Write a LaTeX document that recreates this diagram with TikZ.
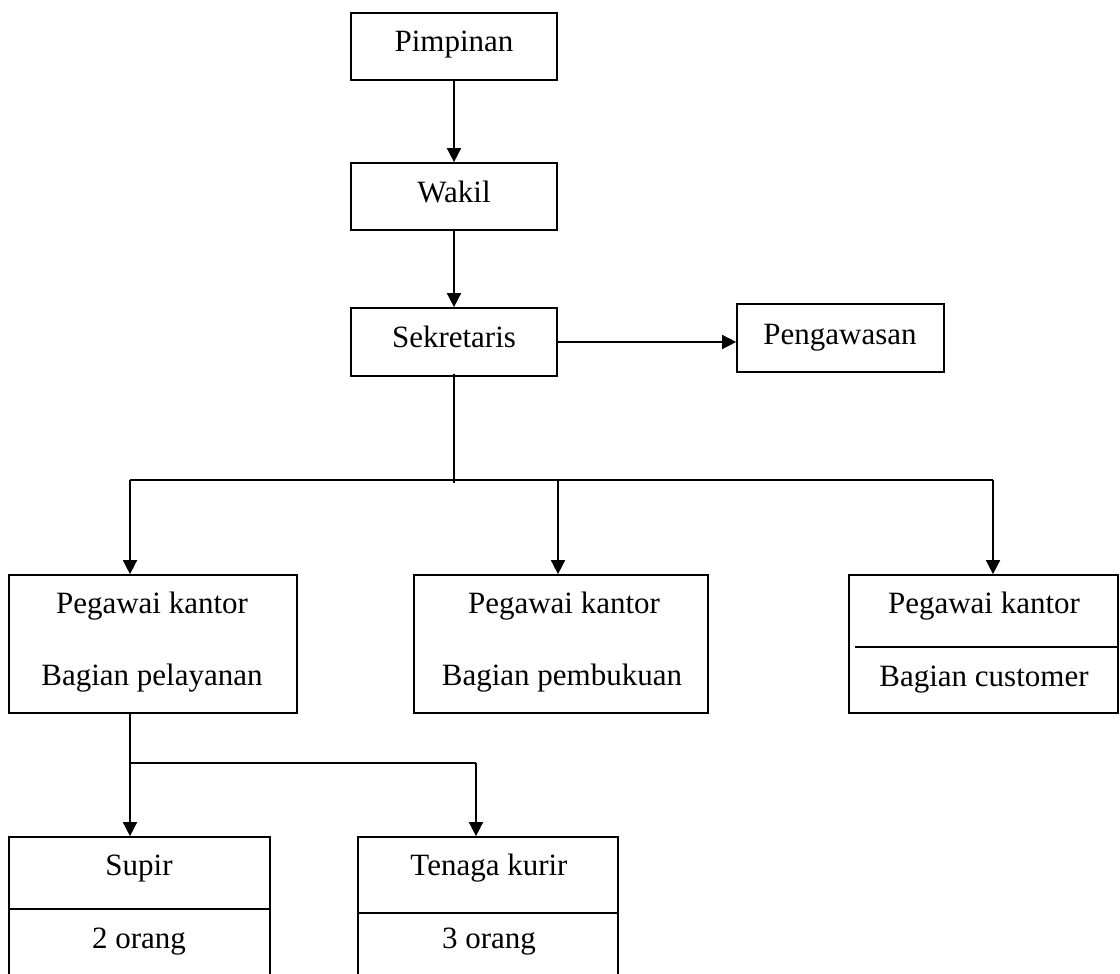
\documentclass[tikz,border=0pt]{standalone}
\usepackage{fontspec}
\setmainfont{Liberation Serif}
\usetikzlibrary{arrows.meta}

\tikzset{
	kotak/.style={draw, rectangle, line width=1.7pt, inner sep=0pt},
	teks/.style={anchor=base, inner sep=0pt, font=\fontsize{31}{37}\selectfont},
	garis/.style={line width=1.6pt},
	panah/.style={line width=1.6pt, -{Triangle[length=14pt, width=14pt]}}
}

\begin{document}
\begin{tikzpicture}[x=1pt, y=-1pt]
	\useasboundingbox (0,0) rectangle (1120,974);
	% kotak
	\node[kotak, minimum width=206pt, minimum height=67pt] (pimpinan) at (454,46.5) {};
	\node[kotak, minimum width=206pt, minimum height=67pt] (wakil) at (454,196.5) {};
	\node[kotak, minimum width=206pt, minimum height=68pt] (sekretaris) at (454,342) {};
	\node[kotak, minimum width=207pt, minimum height=68pt] (pengawasan) at (840.5,338) {};
	\node[kotak, minimum width=288pt, minimum height=138pt] (pegawai1) at (153,644) {};
	\node[kotak, minimum width=294pt, minimum height=138pt] (pegawai2) at (561,644) {};
	\node[kotak, minimum width=269pt, minimum height=138pt] (pegawai3) at (983.5,644) {};
	\node[kotak, minimum width=261pt, minimum height=144pt] (supir) at (139.5,909) {};
	\node[kotak, minimum width=260pt, minimum height=144pt] (kurir) at (488,909) {};
	% teks
	\node[teks] (tPimpinan) at (454,52) {Pimpinan};
	\node[teks] (tWakil) at (454,202) {Wakil};
	\node[teks] (tSekretaris) at (454,347) {Sekretaris};
	\node[teks] (tPengawasan) at (840,344) {Pengawasan};
	\node[teks] (tPegawai1) at (152,613) {Pegawai kantor};
	\node[teks] (tBagian1) at (152,685) {Bagian pelayanan};
	\node[teks] (tPegawai2) at (564,613) {Pegawai kantor};
	\node[teks] (tBagian2) at (562,685) {Bagian pembukuan};
	\node[teks] (tPegawai3) at (984,613) {Pegawai kantor};
	\node[teks] (tBagian3) at (984,686) {Bagian customer};
	\node[teks] (tSupir) at (139,875) {Supir};
	\node[teks] (tSupirJml) at (139,948) {2 orang};
	\node[teks] (tKurir) at (489,875) {Tenaga kurir};
	\node[teks] (tKurirJml) at (489,948) {3 orang};
	% garis pemisah
	\draw[garis] (pegawai3.west |- 0,647) ++(7,0) -- (pegawai3.east |- 0,647);
	\draw[garis] (supir.west |- 0,909) -- (supir.east |- 0,909);
	\draw[garis] (kurir.west |- 0,913) -- (kurir.east |- 0,913);
	% titik cabang
	\coordinate (cabang) at (454,480);
	\coordinate (c1) at (130,480);
	\coordinate (c2) at (558,480);
	\coordinate (c3) at (993,480);
	\coordinate (cabang2) at (130,763);
	\coordinate (d2) at (476,763);
	% panah
	\draw[panah] (pimpinan) -- (wakil);
	\draw[panah] (wakil) -- (sekretaris);
	\draw[panah] (sekretaris.east) -- (sekretaris.east -| pengawasan.west);
	\draw[garis] (sekretaris.south) -- ++(0,-3) -- (cabang) -- ++(0,3);
	\draw[garis] (c1) -- (c3);
	\draw[panah] (c1) -- (c1 |- pegawai1.north);
	\draw[panah] (c2) -- (c2 |- pegawai2.north);
	\draw[panah] (c3) -- (c3 |- pegawai3.north);
	\draw[garis] (cabang2 |- pegawai1.south) -- (cabang2) -- (d2);
	\draw[panah] (cabang2) -- (cabang2 |- supir.north);
	\draw[panah] (d2) -- (d2 |- kurir.north);
\end{tikzpicture}
\end{document}
